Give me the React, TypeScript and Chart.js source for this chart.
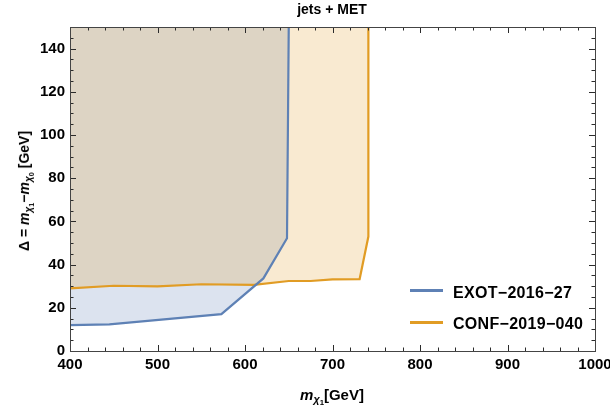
import React, { useEffect, useRef } from "react";
import { Chart, registerables } from "chart.js";

Chart.register(...registerables);

// Exclusion contour from EXOT-2016-27 (mass of chi1 vs. mass splitting)
const exotMass = [400, 445, 573, 621, 648, 650];
const exotDelta = [12, 12.3, 17.1, 33.6, 52.2, 150];

// Exclusion contour from CONF-2019-040
const confMass = [400, 450, 500, 550, 610, 650, 675, 700, 731, 741, 741];
const confDelta = [29, 30.2, 29.9, 30.9, 30.6, 32.4, 32.4, 33.2, 33.3, 53, 150];

const seriesNames = ["EXOT\u22122016\u221227", "CONF\u22122019\u2212040"];
const seriesColors = ["#5E81B5", "#E19C24"];
const seriesFills = ["rgba(94,129,181,0.22)", "rgba(225,156,36,0.21)"];

const xRange = [400, 1000];
const yRange = [0, 150];
const xMajorStep = 100;
const xMinorStep = 20;
const yMajorStep = 20;
const yMinorStep = 5;

const FONT = "'Liberation Sans', Arial, Helvetica, sans-serif";

const toPoints = (xs: number[], ys: number[]) => xs.map((x, i) => ({ x, y: ys[i] }));

// Frame with inward-pointing major/minor ticks on all four sides
const frameTicks = {
  id: "frameTicks",
  afterDatasetsDraw(chart: any) {
    const { ctx, chartArea: a, scales } = chart;
    const xs = scales.x;
    const ys = scales.y;
    ctx.save();
    ctx.strokeStyle = "#2b2b2b";
    ctx.lineWidth = 1;
    ctx.beginPath();
    for (let v = xRange[0]; v <= xRange[1]; v += xMinorStep) {
      const px = Math.round(xs.getPixelForValue(v)) + 0.5;
      const len = v % xMajorStep === 0 ? 6 : 3.5;
      ctx.moveTo(px, a.bottom);
      ctx.lineTo(px, a.bottom - len);
      ctx.moveTo(px, a.top);
      ctx.lineTo(px, a.top + len);
    }
    for (let v = yRange[0]; v <= yRange[1]; v += yMinorStep) {
      const py = Math.round(ys.getPixelForValue(v)) + 0.5;
      const len = v % yMajorStep === 0 ? 6 : 3.5;
      ctx.moveTo(a.left, py);
      ctx.lineTo(a.left + len, py);
      ctx.moveTo(a.right, py);
      ctx.lineTo(a.right - len, py);
    }
    ctx.stroke();
    ctx.strokeStyle = "#444";
    ctx.strokeRect(
      Math.round(a.left) + 0.5,
      Math.round(a.top) + 0.5,
      Math.round(a.right) - Math.round(a.left),
      Math.round(a.bottom) - Math.round(a.top)
    );
    ctx.restore();
  },
};

const tickFont = { family: FONT, size: 15, weight: "bold" as const };

export default function App() {
  const canvasRef = useRef<HTMLCanvasElement | null>(null);

  useEffect(() => {
    const canvas = canvasRef.current;
    if (!canvas) return;
    const exot = toPoints(exotMass, exotDelta);
    const conf = toPoints(confMass, confDelta);
    const chart = new Chart(canvas, {
      type: "line",
      data: {
        datasets: [
          {
            label: seriesNames[0],
            data: exot,
            borderColor: seriesColors[0],
            borderWidth: 2.2,
            pointRadius: 0,
            fill: false,
            tension: 0,
            order: 0,
          },
          {
            label: seriesNames[1],
            data: conf,
            borderColor: seriesColors[1],
            borderWidth: 2.2,
            pointRadius: 0,
            fill: false,
            tension: 0,
            order: 1,
          },
          {
            label: seriesNames[1] + " region",
            data: conf,
            borderColor: "rgba(0,0,0,0)",
            borderWidth: 0,
            backgroundColor: seriesFills[1],
            pointRadius: 0,
            fill: "end",
            tension: 0,
            order: 2,
          },
          {
            label: seriesNames[0] + " region",
            data: exot,
            borderColor: "rgba(0,0,0,0)",
            borderWidth: 0,
            backgroundColor: seriesFills[0],
            pointRadius: 0,
            fill: "end",
            tension: 0,
            order: 3,
          },
        ],
      },
      options: {
        animation: false,
        responsive: false,
        devicePixelRatio: 1,
        events: [],
        layout: { padding: { top: 27, right: 15, left: 0, bottom: 0 } },
        plugins: {
          legend: { display: false },
          title: { display: false },
          tooltip: { enabled: false },
        },
        scales: {
          x: {
            type: "linear",
            min: xRange[0],
            max: xRange[1],
            grid: { display: false, drawTicks: false },
            border: { display: false },
            ticks: {
              stepSize: xMajorStep,
              color: "#000",
              font: tickFont,
              padding: 5,
              maxRotation: 0,
              callback: (v: any) => String(v),
            },
            afterFit: (s: any) => {
              s.height = 57;
              s.paddingRight = 0;
              s.paddingLeft = 0;
            },
          },
          y: {
            type: "linear",
            min: yRange[0],
            max: yRange[1],
            grid: { display: false, drawTicks: false },
            border: { display: false },
            ticks: {
              stepSize: yMajorStep,
              includeBounds: false,
              color: "#000",
              font: tickFont,
              padding: 5,
              callback: (v: any) => String(v),
            },
            afterFit: (s: any) => {
              s.width = 70;
              s.paddingTop = 0;
              s.paddingBottom = 0;
            },
          },
        },
      },
      plugins: [frameTicks],
    });
    return () => chart.destroy();
  }, []);

  const text: React.CSSProperties = {
    position: "absolute",
    fontFamily: FONT,
    fontWeight: "bold",
    color: "#000",
    whiteSpace: "nowrap",
    lineHeight: 1,
  };
  const sub: React.CSSProperties = { fontSize: "72%", position: "relative", top: "0.3em" };
  const sub2: React.CSSProperties = { fontSize: "72%", position: "relative", top: "0.25em" };

  return (
    <div style={{ position: "absolute", left: 0, top: 0, width: 610, height: 408, background: "#fff", overflow: "hidden" }}>
      <canvas ref={canvasRef} width={610} height={408} style={{ display: "block", width: 610, height: 408 }} />
      <div style={{ ...text, fontSize: 14, left: 332, top: 2, transform: "translateX(-50%)" }}>jets + MET</div>
      <div style={{ ...text, fontSize: 15, left: 332, top: 387, transform: "translateX(-50%)" }}>
        <i>m</i>
        <span style={sub}>
          <i>{"\u03c7"}</i>
          <span style={sub2}>1</span>
        </span>
        [GeV]
      </div>
      <div
        style={{
          ...text,
          fontSize: 14,
          left: 24,
          top: 191,
          transform: "translate(-50%, -50%) rotate(-90deg)",
        }}
      >
        {"\u0394 = "}
        <i>m</i>
        <span style={sub}>
          <i>{"\u03c7"}</i>
          <span style={sub2}>1</span>
        </span>
        {"\u2212"}
        <i>m</i>
        <span style={sub}>
          <i>{"\u03c7"}</i>
          <span style={sub2}>0</span>
        </span>
        {" [GeV]"}
      </div>
      {seriesNames.map((name, i) => (
        <React.Fragment key={name}>
          <div
            style={{
              position: "absolute",
              left: 410,
              top: (i === 0 ? 290 : 322) - 1,
              width: 33,
              height: 2.5,
              background: seriesColors[i],
            }}
          />
          <div
            style={{
              ...text,
              fontSize: 16,
              letterSpacing: 0.3,
              left: 453,
              top: (i === 0 ? 292.5 : 324) - 8,
            }}
          >
            {name}
          </div>
        </React.Fragment>
      ))}
    </div>
  );
}
